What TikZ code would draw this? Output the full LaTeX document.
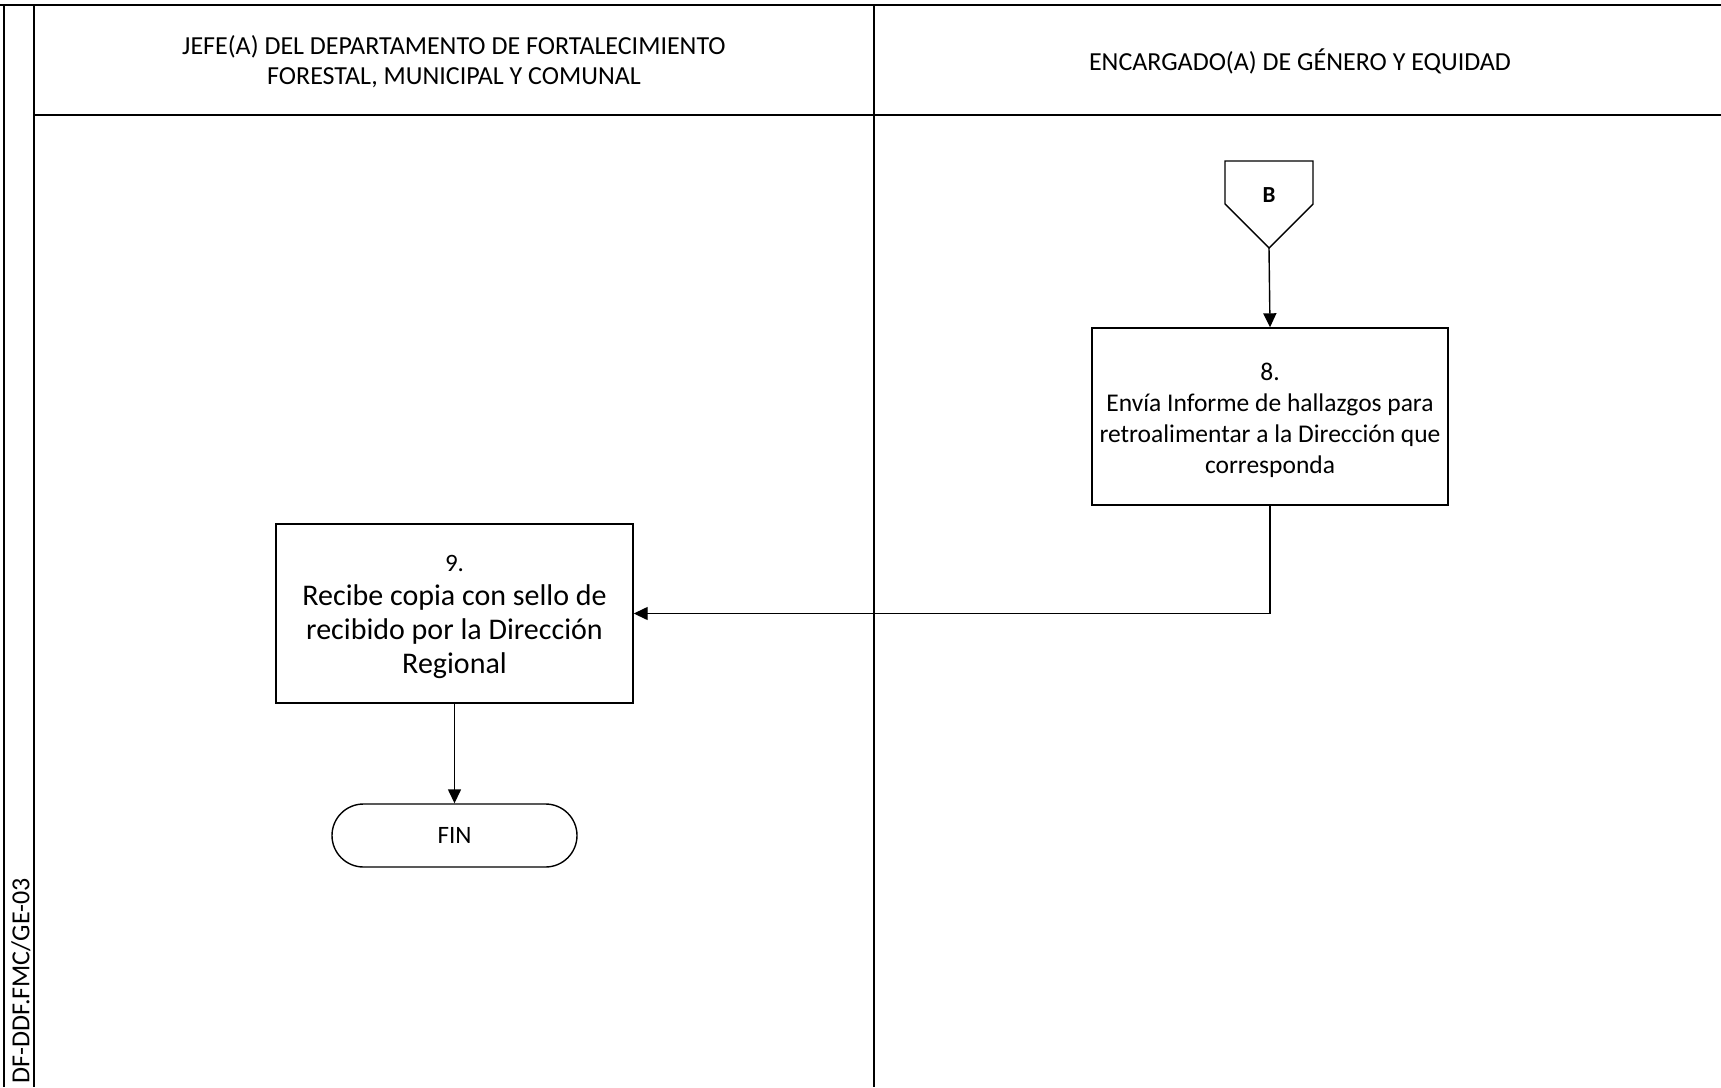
\documentclass[tikz,border=0pt]{standalone}
\usepackage{fontspec}
\setmainfont{Carlito}
\usetikzlibrary{arrows.meta,shapes.misc}
\begin{document}
\begin{tikzpicture}[x=1pt,y=-1pt,
  lane/.style={line width=2.2pt, draw=black},
  box/.style={draw, line width=1.4pt, inner sep=0pt},
  boxtext/.style={align=center, inner sep=0pt},
  term/.style={draw, line width=1.4pt, rounded rectangle, inner sep=0pt},
  arr/.style={line width=1.4pt, -{Triangle[length=14pt,width=13pt]}},
  hdr/.style={align=center, font=\fontsize{26}{30}\selectfont}
]
\useasboundingbox (0,0) rectangle (1721,1087);
% swimlane frame
\draw[lane] (0,5) -- (1721,5);
\draw[lane] (4,5) -- (4,1087);
\draw[lane] (34,5) -- (34,1087);
\draw[lane] (34,115) -- (1721,115);
\draw[lane] (874,5) -- (874,1087);
% headers
\node[hdr] (h1) at (454,62) {JEFE(A) DEL DEPARTAMENTO DE FORTALECIMIENTO\\FORESTAL, MUNICIPAL Y COMUNAL};
\node[hdr] (h2) at (1300,61) {ENCARGADO(A) DE GÉNERO Y EQUIDAD};
% side code
\node[rotate=90, anchor=east, inner sep=0pt, font=\fontsize{26}{30}\selectfont] (code) at (21,878) {DF-DDF.FMC/GE-03};
% off-page connector B
\draw[line width=1.4pt] (1225,161) -- (1313,161) -- (1313,204) -- (1269,248) -- (1225,204) -- cycle;
\coordinate (Btip) at (1269,248);
\node[font=\fontsize{23}{25}\selectfont\bfseries] (B) at (1269,195) {B};
% step 8
\node[box, minimum width=356, minimum height=177] (b8) at (1270,416.5) {};
\node[boxtext, font=\fontsize{25.5}{31}\selectfont] (t8) at ([yshift=-3.5pt]b8.center)
  {8.\\Envía Informe de hallazgos para\\retroalimentar a la Dirección que\\corresponda};
% step 9
\node[box, minimum width=357, minimum height=179] (b9) at (454.5,613.5) {};
\node[boxtext, font=\fontsize{30}{34}\selectfont] (t9) at ([yshift=-3.5pt]b9.center)
  {{\fontsize{25}{29}\selectfont 9.}\\Recibe copia con sello de\\recibido por la Dirección\\Regional};
% end
\node[term, minimum width=245, minimum height=63, font=\fontsize{25}{28}\selectfont] (fin) at (454.5,835.5) {FIN};
% connectors
\draw[arr] (Btip) -- (b8.north);
\draw[arr] (b8.south) |- (b9.east);
\draw[arr] (b9.south) -- (fin.north);
\end{tikzpicture}
\end{document}
